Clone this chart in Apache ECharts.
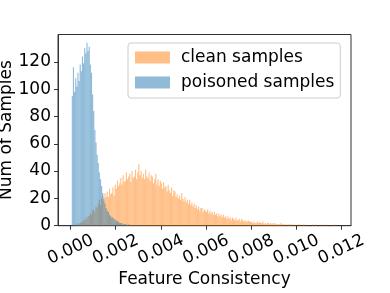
<!DOCTYPE html>
<html>
<head>
<meta charset="utf-8">
<script src="https://cdn.jsdelivr.net/npm/echarts@6/dist/echarts.min.js"></script>
<style>html,body{margin:0;padding:0;background:#fff}#c{width:390px;height:293px}</style>
</head>
<body>
<div id="c"></div>
<script>
// Histogram bins (width in Feature Consistency units)
const binWidth = 0.00005;
const cleanStart = 0.0002;
const poisonedStart = 0.00005;
const seriesNames = ['clean samples', 'poisoned samples'];
const xTicks = [0, 0.002, 0.004, 0.006, 0.008, 0.010, 0.012];
const yTicks = [0, 20, 40, 60, 80, 100, 120];

const poisonedCounts = [
  95,116,98,108,102,112,106,118,113,124,119,130,126,134,128,131,118,112,96,84,
  70,61,52,46,39,34,29,24,20,16,13,11,10,8,7,6,6,5,4,4,
  3,3,2,2,2,1,1,1,1,0,1,0
];

const cleanCounts = [
  1,0,2,1, 2,3,2,4, 4,6,5,7, 7,9,8,11, 12,10,14,13,
  16,19,15,20, 22,18,24,21, 25,21,27,23, 24,28,22,30, 27,33,29,31,
  35,30,37,32, 33,39,34,36, 38,32,40,35, 36,41,34,39, 45,37,40,35,
  38,34,41,36, 35,39,33,37, 36,31,34,38, 30,34,29,33, 31,27,32,28,
  29,25,30,26, 24,28,22,26, 25,21,23,20, 22,19,24,20, 18,21,17,19,
  16,19,15,17, 14,16,13,15, 12,14,11,13, 13,10,12,11, 10,12,9,11,
  9,10,8,10, 8,9,7,9, 7,8,6,8, 6,7,5,7, 5,6,4,6,
  5,4,6,4, 4,5,3,5, 4,3,4,3, 3,4,3,3, 3,2,3,2,
  2,3,2,3, 2,2,3,1, 2,1,2,2, 1,2,1,2, 1,2,1,1,
  1,1,2,1, 1,0,1,1, 0,1,1,0, 1,0,1,0, 0,1,0,1,
  0,0,1,0, 1,0,0,0, 0,0,1,0, 0,1,0,0, 0,0,0,1,
  0,0,1,0, 0,0,0,0, 0,1,0,0
];

function toBins(start, counts) {
  return counts.map((c, i) => [start + i * binWidth, start + (i + 1) * binWidth, c]);
}

const colors = ['rgba(255,127,14,0.5)', 'rgba(31,119,180,0.5)'];

function histSeries(name, data, color) {
  return {
    name: name,
    type: 'custom',
    data: data,
    encode: { x: [0, 1], y: 2 },
    itemStyle: { color: color },
    renderItem: function (params, api) {
      const p0 = api.coord([api.value(0), api.value(2)]);
      const p1 = api.coord([api.value(1), 0]);
      return {
        type: 'rect',
        shape: { x: p0[0], y: p0[1], width: p1[0] - p0[0], height: p1[1] - p0[1] },
        style: { fill: color }
      };
    }
  };
}

const font = 'DejaVu Sans';
const fs = 17;
const chart = echarts.init(document.getElementById('c'), null, { renderer: 'canvas' });
chart.setOption({
  animation: false,
  textStyle: { fontFamily: font },
  grid: {
    left: 58, right: 39, top: 34.5, bottom: 67.3,
    containLabel: false, outerBoundsMode: 'none',
    show: true, borderColor: '#333', borderWidth: 1, backgroundColor: 'transparent'
  },
  legend: {
    data: seriesNames.map((n) => ({ name: n, icon: 'rect' })),
    orient: 'vertical',
    left: 128, top: 43,
    itemWidth: 35, itemHeight: 12, itemGap: 8,
    padding: [6, 6, 7, 7],
    backgroundColor: 'rgba(255,255,255,0.8)',
    borderColor: '#cccccc', borderWidth: 1, borderRadius: 3,
    textStyle: { fontFamily: font, fontSize: fs, color: '#000', padding: [0, 0, 0, 6] }
  },
  xAxis: {
    type: 'value',
    min: -0.00056, max: 0.01243,
    name: 'Feature Consistency',
    nameLocation: 'middle', nameGap: 45, nameMoveOverlap: false,
    nameTextStyle: { fontFamily: font, fontSize: fs, color: '#000' },
    splitLine: { show: false },
    axisLine: { show: true, onZero: false, lineStyle: { color: '#333', width: 1 } },
    axisTick: { show: true, length: 4, customValues: xTicks, lineStyle: { color: '#333' } },
    axisLabel: {
      customValues: xTicks, rotate: 25, align: 'center', verticalAlign: 'middle', margin: 24,
      fontFamily: font, fontSize: fs, color: '#000',
      formatter: (v) => v.toFixed(3)
    }
  },
  yAxis: {
    type: 'value',
    min: 0, max: 140,
    name: 'Num of Samples',
    nameLocation: 'middle', nameGap: 43, nameMoveOverlap: false,
    nameTextStyle: { fontFamily: font, fontSize: fs, color: '#000' },
    splitLine: { show: false },
    axisLine: { show: true, onZero: false, lineStyle: { color: '#333', width: 1 } },
    axisTick: { show: true, length: 4, customValues: yTicks, lineStyle: { color: '#333' } },
    axisLabel: { customValues: yTicks, margin: 7, fontFamily: font, fontSize: fs, color: '#000' }
  },
  series: [
    histSeries(seriesNames[0], toBins(cleanStart, cleanCounts), colors[0]),
    histSeries(seriesNames[1], toBins(poisonedStart, poisonedCounts), colors[1])
  ]
});
</script>
</body>
</html>
